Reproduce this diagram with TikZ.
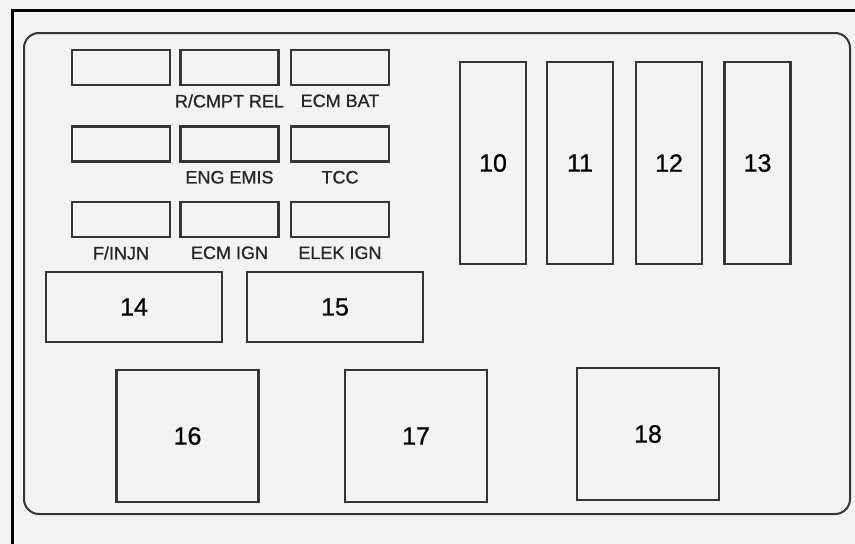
\documentclass[tikz,border=0pt]{standalone}
\usepackage{fontspec}
\setmainfont{Liberation Sans}
\newfontfamily\panelFont{Liberation Sans}[FakeBold=0.8]
\usetikzlibrary{positioning}
\definecolor{panelGray}{HTML}{F3F3F3}
\definecolor{lineGray}{HTML}{363636}
\tikzset{
    fuseBox/.style={rectangle, draw=lineGray, line width=2.4pt, fill=panelGray, inner sep=0pt},
    miniFuse/.style={fuseBox, minimum width=98pt, minimum height=35pt},
    tallFuse/.style={fuseBox, minimum width=66pt, minimum height=202pt, font=\panelFont\fontsize{25}{25}\selectfont},
    wideFuse/.style={fuseBox, minimum width=176pt, minimum height=70pt, font=\panelFont\fontsize{25}{25}\selectfont},
    relayBox/.style={fuseBox, minimum width=142pt, minimum height=132pt, font=\panelFont\fontsize{25}{25}\selectfont},
    fuseLabel/.style={inner sep=0pt, anchor=north, text=black!85, font=\panelFont\fontsize{18}{18}\selectfont},
    panelLine/.style={draw=lineGray, line width=2pt, rounded corners=15pt}
}

\begin{document}
\begin{tikzpicture}[x=1pt, y=-1pt]

        % Page and background
        \useasboundingbox[fill=panelGray] (0,0) rectangle (855,544);

        % 1. Outer frame and rounded panel
        \draw[line width=3pt, black] (12,544) -- (12,10) -- (855,10);
        \draw[panelLine] (24,33) rectangle (850,514);

        % 2. Small fuses (3 x 3)
        \foreach \c/\x in {1/121, 2/229.5, 3/340} {
            \foreach \r/\y in {1/67.5, 2/144, 3/219.5} {
                \node[miniFuse] (f\r\c) at (\x,\y) {};
            }
        }

        % 3. Fuse labels
        \node[fuseLabel, below=8pt of f12] (l12) {R/CMPT REL};
        \node[fuseLabel, below=8pt of f13] (l13) {ECM BAT};
        \node[fuseLabel, below=8pt of f22] (l22) {ENG EMIS};
        \node[fuseLabel, below=8pt of f23] (l23) {TCC};
        \node[fuseLabel, below=8pt of f31] (l31) {F/INJN};
        \node[fuseLabel, below=8pt of f32] (l32) {ECM IGN};
        \node[fuseLabel, below=8pt of f33] (l33) {ELEK IGN};

        % 4. Tall fuses
        \foreach \n/\x in {10/493, 11/580, 12/669, 13/757.5} {
            \node[tallFuse] (t\n) at (\x,163) {\n};
        }

        % 5. Wide fuses and relays
        \node[wideFuse] (w14) at (134,307) {14};
        \node[wideFuse] (w15) at (335,307) {15};
        \node[relayBox] (r16) at (187.5,436) {16};
        \node[relayBox] (r17) at (416,436) {17};
        \node[relayBox] (r18) at (648,434) {18};

\end{tikzpicture}
\end{document}
